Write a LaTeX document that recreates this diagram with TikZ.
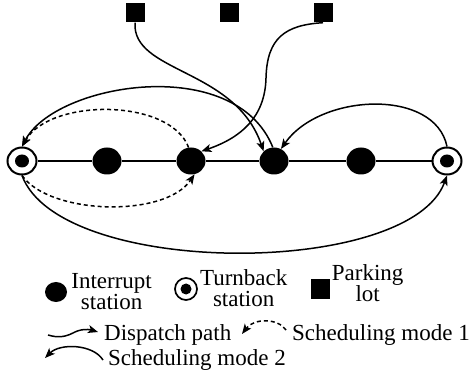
\documentclass[tikz,border=0pt]{standalone}
\usepackage{fontspec}
\setmainfont{Liberation Serif}
\usetikzlibrary{positioning,shapes,arrows.meta}
\tikzset{
    spear/.tip = { Stealth[length=10pt,width=8pt,inset=2.5pt] },
    track/.style = { line width=1.2pt, },
    dispatch/.style = { -spear,line width=1.5pt, },
    modeone/.style = { -spear,line width=1.5pt,dash pattern=on 4pt off 3pt, },
    modetwo/.style = { -spear,line width=1.5pt, },
    write/.style = { text=black,font=\rmfamily\fontsize{23}{21}\selectfont,inner sep=0, },
    stop/.style = { ellipse,fill=black,inner sep=0,minimum width=29pt,minimum height=27pt, },
    ring/.style = { ellipse,draw,line width=2pt,fill=white,inner sep=0,minimum width=29pt,minimum height=27pt, },
    dot/.style = { ellipse,fill=black,inner sep=0,minimum width=14pt,minimum height=13pt, },
    lot/.style = { fill=black,inner sep=0,minimum size=19pt, },
}
\newcommand{\turnback}[4]{
    \node [ring,#3] (#1) at (#2) {};
    \node [dot,#4] at (#1) {};
}

\begin{document}
\begin{tikzpicture}[x=10pt,y=10pt]

    \useasboundingbox (0,0) rectangle (47.1,38.3);

    % parking lots
    \node [lot] (p1) at (13.5,37.0) {};
    \node [lot] (p2) at (22.9,37.0) {};
    \node [lot] (p3) at (32.3,37.0) {};

    % line with stations
    \turnback{t1}{2.2,22.2}{}{}
    \node [stop] (s1) at (10.7,22.2) {};
    \node [stop] (s2) at (19.1,22.2) {};
    \node [stop] (s3) at (27.4,22.2) {};
    \node [stop] (s4) at (36.1,22.2) {};
    \turnback{t2}{44.7,22.2}{}{}

    \draw [track] (t1) -- (s1) -- (s2) -- (s3) -- (s4) -- (t2);

    % dispatch paths
    \draw [dispatch] (p1.south) .. controls (13.2,31) and (23.5,31.5) .. (s3.north west);
    \draw [dispatch] (p3.south) .. controls (28.5,35.8) and (26.7,34.5) .. (26.6,30.5)
        .. controls (26.5,26.5) and (24,24.5) .. (s2.north east);

    % scheduling modes
    \draw [modetwo] (s3.95) .. controls (23.5,33) and (5.5,30) .. (t1.north);
    \draw [modeone] (s2.100) .. controls (17,28.5) and (5,28.5) .. (t1.north);
    \draw [modetwo] (t2.north) .. controls (43.5,29.5) and (32,29) .. (s3.60);
    \draw [modeone] (t1.south) .. controls (5,16.8) and (16.5,16.5) .. (s2.-75);
    \draw [modetwo] (t1.south) .. controls (6,10.5) and (41,10.5) .. (t2.south);

    % legend
    \node [stop,minimum width=22pt,minimum height=20pt] (lg1) at (5.6,9.1) {};
    \node [write,align=center,right=4pt of lg1] (lt1) {Interrupt\\station};
    \turnback{lg2}{18.6,9.4}{minimum width=22pt,minimum height=22pt,line width=1.7pt}{minimum width=11pt,minimum height=11pt}
    \node [write,align=center,right=2pt of lg2,yshift=1pt] (lt2) {Turnback\\station};
    \node [lot] (lg3) at (32.0,9.4) {};
    \node [write,align=center,right=2pt of lg3,yshift=6pt] (lt3) {Parking\\lot};

    \coordinate (w1) at (4.8,4.8);
    \coordinate (w2) at (9.8,5.1);
    \draw [dispatch] (w1) .. controls (5.8,4.5) and (6.5,4.6) .. (7.3,5.0)
        .. controls (8.0,5.4) and (8.8,5.4) .. (w2);
    \node [write,anchor=base west] (lt4) at (10.4,4.3) {Dispatch path};

    \coordinate (d1) at (28.6,5.3);
    \coordinate (d2) at (24.2,4.9);
    \draw [modeone] (d1) .. controls (27.8,6.5) and (25.4,6.5) .. (d2);
    \node [write,anchor=base west] (lt5) at (29.2,4.3) {Scheduling mode 1};

    \coordinate (a1) at (10.3,2.3);
    \coordinate (a2) at (4.5,2.5);
    \draw [modetwo] (a1) .. controls (9.3,3.9) and (6,4.0) .. (a2);
    \node [write,anchor=base west] (lt6) at (10.8,1.8) {Scheduling mode 2};

\end{tikzpicture}
\end{document}
